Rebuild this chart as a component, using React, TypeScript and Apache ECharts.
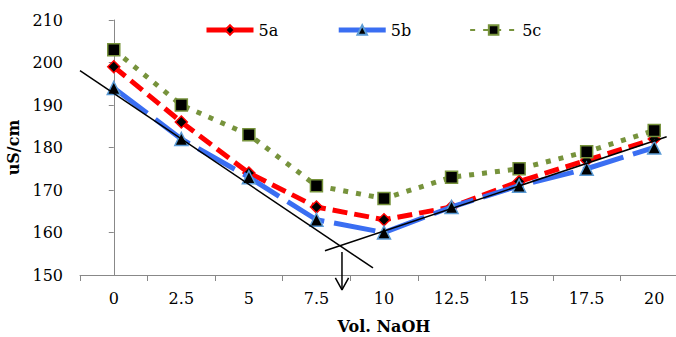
import React, { useEffect, useRef } from "react";
import * as echarts from "echarts";

const categories = ["0", "2.5", "5", "7.5", "10", "12.5", "15", "17.5", "20"];
const s5a = [199, 186, 174, 166, 163, 166, 172, 177, 182];
const s5b = [194, 182, 173, 163, 160, 166, 171, 175, 180];
const s5c = [203, 190, 183, 171, 168, 173, 175, 179, 184];
const yTicks = { min: 150, max: 210, interval: 10 };
// annotation lines in (category index, value) coordinates
const fitLine1 = [[-0.5, 198.07], [3.837, 151.65]];
const fitLine2 = [[3.126, 155.72], [8.184, 182.54]];
const arrowShaft = [[3.378, 155.4], [3.378, 146.5]];
const arrowHead = [[3.28, 149.3], [3.378, 146.5], [3.476, 149.3]];

const FONT = "DejaVu Serif";
const RED = "#FF0000";
const BLUE = "#3A6EF2";
const GREEN = "#77933C";

export default function App() {
  const ref = useRef<HTMLDivElement>(null);
  useEffect(() => {
    const chart = echarts.init(ref.current!, null, { renderer: "svg" });
    const annot = (name: string, data: number[][]) => ({
      name,
      type: "line",
      xAxisIndex: 1,
      data,
      symbol: "none",
      clip: false,
      z: 5,
      silent: true,
      lineStyle: { color: "#000", width: 1.5 },
    });
    chart.setOption({
      animation: false,
      grid: { left: 80, width: 608, top: 20, bottom: 62, outerBoundsMode: "none", containLabel: false },
      legend: {
        left: 199,
        top: 17,
        itemWidth: 47,
        itemHeight: 12,
        itemGap: 58,
        textStyle: { fontFamily: FONT, fontSize: 16, color: "#000" },
        data: [
          { name: "5a", lineStyle: { type: "solid", width: 5 } },
          { name: "5b", lineStyle: { type: "solid", width: 5 } },
          { name: "5c" },
        ],
      },
      xAxis: [
        {
          type: "category",
          data: categories,
          boundaryGap: true,
          name: "Vol. NaOH",
          nameLocation: "middle",
          nameGap: 43,
          nameTextStyle: { fontFamily: FONT, fontSize: 16, fontWeight: "bold", color: "#000" },
          axisLine: { lineStyle: { color: "#888", width: 1 } },
          axisTick: { show: true, length: 6, lineStyle: { color: "#888" } },
          axisLabel: { fontFamily: FONT, fontSize: 16, color: "#000", margin: 15 },
          splitLine: { show: false },
        },
        {
          type: "value",
          min: -0.5,
          max: 8.5,
          show: false,
          splitLine: { show: false },
        },
      ],
      yAxis: {
        type: "value",
        min: yTicks.min,
        max: yTicks.max,
        interval: yTicks.interval,
        name: "uS/cm",
        nameLocation: "middle",
        nameGap: 56,
        nameTextStyle: { fontFamily: FONT, fontSize: 16, fontWeight: "bold", color: "#000" },
        axisLine: { show: true, lineStyle: { color: "#888", width: 1 } },
        axisTick: { show: true, length: 5, lineStyle: { color: "#888" } },
        axisLabel: { fontFamily: FONT, fontSize: 16, color: "#000", margin: 17 },
        splitLine: { show: false },
      },
      series: [
        {
          name: "5a",
          type: "line",
          data: s5a,
          symbol: "diamond",
          symbolSize: 12,
          itemStyle: { color: "#000", borderColor: RED, borderWidth: 1.5 },
          lineStyle: { color: RED, width: 5, type: [15, 7] },
          z: 2,
        },
        {
          name: "5b",
          type: "line",
          data: s5b,
          symbol: "triangle",
          symbolSize: 13,
          itemStyle: { color: "#000", borderColor: "#5B9BD5", borderWidth: 1.5 },
          lineStyle: { color: BLUE, width: 5, type: [42, 10] },
          z: 3,
        },
        {
          name: "5c",
          type: "line",
          data: s5c,
          symbol: "rect",
          symbolSize: 12,
          itemStyle: { color: "#000", borderColor: GREEN, borderWidth: 1.5 },
          lineStyle: { color: GREEN, width: 5, type: [5, 8] },
          z: 4,
        },
        annot("fit1", fitLine1),
        annot("fit2", fitLine2),
        annot("arrow", arrowShaft),
        annot("arrowHead", arrowHead),
      ],
    });
    return () => chart.dispose();
  }, []);
  return (
    <div
      ref={ref}
      style={{ position: "fixed", left: 0, top: 0, width: 676, height: 337, background: "#fff" }}
    />
  );
}
